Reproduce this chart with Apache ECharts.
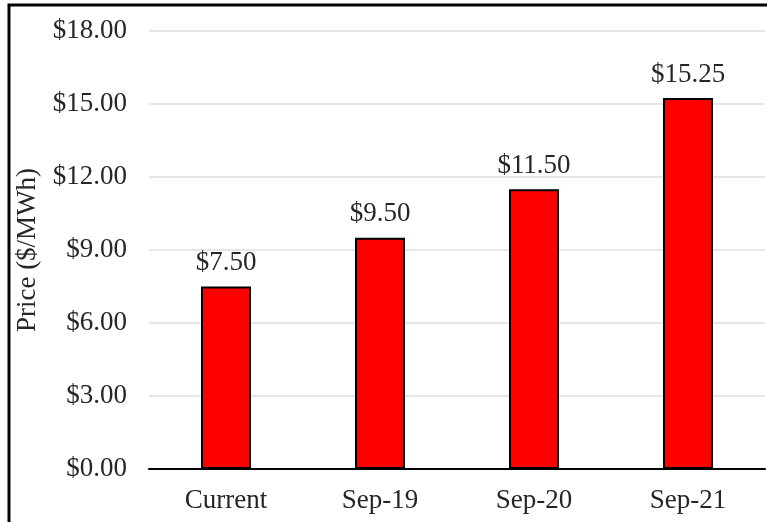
<!DOCTYPE html>
<html>
<head>
<meta charset="utf-8">
<script src="https://cdn.jsdelivr.net/npm/echarts@6/dist/echarts.min.js"></script>
<style>
  html, body { margin: 0; padding: 0; background: #fff; }
  #main { width: 767px; height: 522px; }
</style>
</head>
<body>
<div id="main"></div>
<script>
var categories = ['Current', 'Sep-19', 'Sep-20', 'Sep-21'];
var prices = [7.50, 9.50, 11.50, 15.25];

var font = 'Liberation Serif';
var chart = echarts.init(document.getElementById('main'));

chart.setOption({
    animation: false,
    backgroundColor: '#fff',
    grid: { left: 149, right: 2, top: 31, bottom: 53 },
    graphic: [{
        type: 'rect',
        shape: { x: 9, y: 5, width: 800, height: 600 },
        style: { fill: 'none', stroke: '#000', lineWidth: 3 },
        z: 100
    }],
    xAxis: {
        type: 'category',
        data: categories,
        axisLine: { lineStyle: { color: '#000', width: 2 } },
        axisTick: { show: false },
        axisLabel: { color: '#262626', fontFamily: font, fontSize: 27, margin: 18 }
    },
    yAxis: {
        type: 'value',
        min: 0, max: 18, interval: 3,
        name: 'Price ($/MWh)',
        nameLocation: 'middle',
        nameGap: 103,
        nameTextStyle: { color: '#262626', fontFamily: font, fontSize: 27 },
        axisLine: { show: false },
        axisTick: { show: false },
        splitLine: { lineStyle: { color: '#e6e6e6', width: 2 } },
        axisLabel: {
            color: '#262626', fontFamily: font, fontSize: 27, margin: 22,
            formatter: function (v) { return '$' + v.toFixed(2); }
        }
    },
    series: [{
        type: 'bar',
        data: prices,
        barWidth: 50,
        itemStyle: { color: '#ff0000', borderColor: '#000', borderWidth: 2 },
        label: {
            show: true, position: 'top', distance: 10,
            color: '#262626', fontFamily: font, fontSize: 27,
            formatter: function (p) { return '$' + p.value.toFixed(2); }
        }
    }]
});
</script>
</body>
</html>
